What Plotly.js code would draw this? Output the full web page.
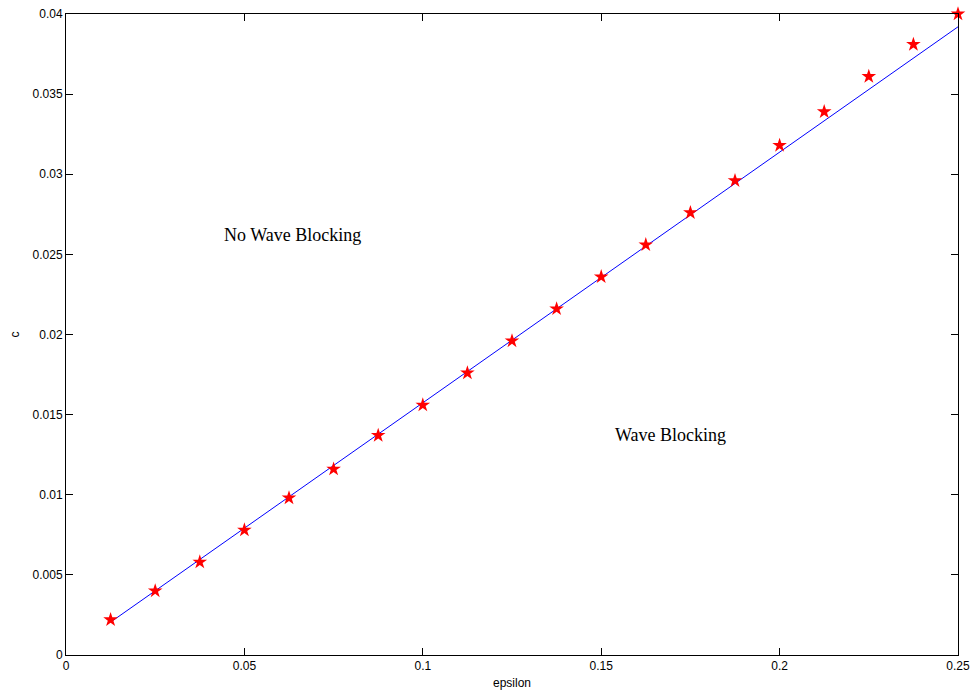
<!DOCTYPE html>
<html>
<head>
<meta charset="utf-8">
<script src="https://cdn.plot.ly/plotly-3.0.1.min.js"></script>
<style>html,body{margin:0;padding:0;background:#fff;}#chart{width:971px;height:692px;}</style>
</head>
<body>
<div id="chart"></div>
<script>
const epsilonValues = [0.0125, 0.025, 0.0375, 0.05, 0.0625, 0.075, 0.0875, 0.1, 0.1125, 0.125,
                       0.1375, 0.15, 0.1625, 0.175, 0.1875, 0.2, 0.2125, 0.225, 0.2375, 0.25];
const cValues = [0.0022, 0.0040, 0.0058, 0.0078, 0.0098, 0.0116, 0.0137, 0.0156, 0.0176, 0.0196,
                 0.0216, 0.0236, 0.0256, 0.0276, 0.0296, 0.0318, 0.0339, 0.0361, 0.0381, 0.0400];
const fitX = [0.0125, 0.25];
const fitY = [0.00205, 0.0392];
const xTickVals = [0, 0.05, 0.1, 0.15, 0.2, 0.25];
const xTickText = ["0", "0.05", "0.1", "0.15", "0.2", "0.25"];
const yTickVals = [0, 0.005, 0.01, 0.015, 0.02, 0.025, 0.03, 0.035, 0.04];
const yTickText = ["0", "0.005", "0.01", "0.015", "0.02", "0.025", "0.03", "0.035", "0.04"];
const regionLabels = ["No Wave Blocking", "Wave Blocking"];
const regionX = [0.0636, 0.1693];
const regionY = [0.0262, 0.0137];

const traces = [
  {x: fitX, y: fitY, mode: 'lines', type: 'scatter', line: {color: '#0000ff', width: 1}, hoverinfo: 'skip', cliponaxis: false},
  {x: epsilonValues, y: cValues, mode: 'markers', type: 'scatter', cliponaxis: false,
   marker: {symbol: 'star', color: '#ff0000', size: 11, line: {width: 0}}}
];

const axisCommon = {
  showgrid: false, zeroline: false, showline: true, linecolor: '#000', linewidth: 1,
  mirror: 'ticks', ticks: 'inside', ticklen: 7, tickcolor: '#000', tickwidth: 1,
  tickfont: {family: 'Liberation Sans, Arial, sans-serif', size: 12, color: '#000'}
};

const layout = {
  width: 971, height: 692,
  margin: {l: 66, r: 13, t: 14, b: 37},
  paper_bgcolor: '#fff', plot_bgcolor: '#fff',
  showlegend: false,
  xaxis: Object.assign({}, axisCommon, {
    range: [0, 0.25], tickmode: 'array', tickvals: xTickVals, ticktext: xTickText,
    title: {text: 'epsilon', font: {family: 'Liberation Sans, Arial, sans-serif', size: 12, color: '#000'}, standoff: 6}
  }),
  yaxis: Object.assign({}, axisCommon, {
    range: [0, 0.04], tickmode: 'array', tickvals: yTickVals, ticktext: yTickText,
    title: {text: 'c', font: {family: 'Liberation Sans, Arial, sans-serif', size: 12, color: '#000'}, standoff: 10}
  }),
  annotations: regionLabels.map((t, i) => ({
    x: regionX[i], y: regionY[i], xref: 'x', yref: 'y', text: t, showarrow: false,
    font: {family: 'Liberation Serif, Times New Roman, serif', size: 18, color: '#000'}
  }))
};

Plotly.newPlot('chart', traces, layout, {displayModeBar: false, staticPlot: true});
</script>
</body>
</html>
